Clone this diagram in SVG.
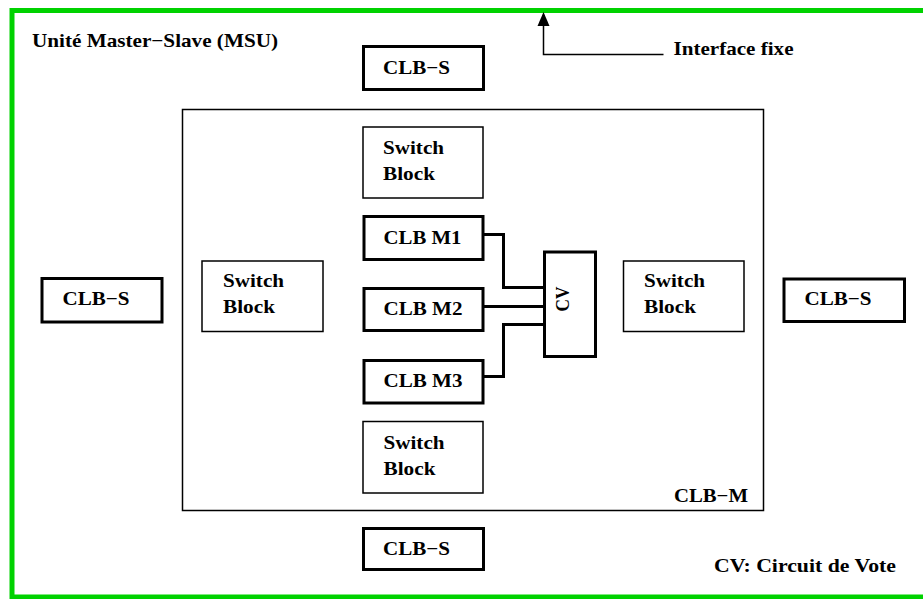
<svg xmlns="http://www.w3.org/2000/svg" width="923" height="599" viewBox="0 0 923 599">
<defs>
<style>
text{font-family:"Liberation Serif","Times New Roman",serif;font-weight:700;font-size:19px;fill:#000}
.thin{fill:#fff;stroke:#000;stroke-width:1.5}
.thick{fill:#fff;stroke:#000;stroke-width:3}
.wire{fill:none;stroke:#000;stroke-width:3}
.frame{fill:none;stroke:#00d200;stroke-width:5}
</style>
</defs>
<rect width="923" height="599" fill="#fff"/>
<g id="frame">
<path class="frame" d="M923,10.5 H12 V597 H923"/>
<text x="32" y="47" textLength="246" lengthAdjust="spacingAndGlyphs">Unité Master−Slave (MSU)</text>
</g>
<g id="clb-m">
<rect class="thin" x="182.5" y="109.5" width="581" height="401"/>
<text x="674" y="502" textLength="74" lengthAdjust="spacingAndGlyphs">CLB−M</text>
</g>
<g id="clb-s-top">
<rect class="thick" x="363.5" y="46.5" width="120" height="43"/>
<text x="383" y="73.5" textLength="67" lengthAdjust="spacingAndGlyphs">CLB−S</text>
</g>
<g id="clb-s-bottom">
<rect class="thick" x="363.5" y="528.5" width="120" height="41"/>
<text x="383" y="555" textLength="67" lengthAdjust="spacingAndGlyphs">CLB−S</text>
</g>
<g id="clb-s-left">
<rect class="thick" x="42" y="278.5" width="120" height="43.5"/>
<text x="62.5" y="305" textLength="67" lengthAdjust="spacingAndGlyphs">CLB−S</text>
</g>
<g id="clb-s-right">
<rect class="thick" x="784" y="279" width="120.5" height="42.5"/>
<text x="804.5" y="304.5" textLength="67" lengthAdjust="spacingAndGlyphs">CLB−S</text>
</g>
<g id="switch-top">
<rect class="thin" x="363" y="127" width="120" height="71"/>
<text x="383" y="154" textLength="61" lengthAdjust="spacingAndGlyphs">Switch</text>
<text x="383" y="180" textLength="52" lengthAdjust="spacingAndGlyphs">Block</text>
</g>
<g id="switch-bottom">
<rect class="thin" x="363" y="421.5" width="120" height="71.5"/>
<text x="383.5" y="448.5" textLength="61" lengthAdjust="spacingAndGlyphs">Switch</text>
<text x="383.5" y="475" textLength="52" lengthAdjust="spacingAndGlyphs">Block</text>
</g>
<g id="switch-left">
<rect class="thin" x="202" y="261" width="121" height="70.5"/>
<text x="223" y="286.5" textLength="61" lengthAdjust="spacingAndGlyphs">Switch</text>
<text x="223" y="313" textLength="52" lengthAdjust="spacingAndGlyphs">Block</text>
</g>
<g id="switch-right">
<rect class="thin" x="623.5" y="261" width="120.5" height="70.5"/>
<text x="644" y="286.5" textLength="61" lengthAdjust="spacingAndGlyphs">Switch</text>
<text x="644" y="313" textLength="52" lengthAdjust="spacingAndGlyphs">Block</text>
</g>
<g id="clb-m1">
<rect class="thick" x="364" y="216.5" width="119" height="43"/>
<text x="383.5" y="243.5" textLength="78" lengthAdjust="spacingAndGlyphs">CLB M1</text>
</g>
<g id="clb-m2">
<rect class="thick" x="364" y="288.5" width="119" height="42"/>
<text x="383.5" y="314.5" textLength="79" lengthAdjust="spacingAndGlyphs">CLB M2</text>
</g>
<g id="clb-m3">
<rect class="thick" x="364" y="360.5" width="119" height="42.5"/>
<text x="383.5" y="387" textLength="79" lengthAdjust="spacingAndGlyphs">CLB M3</text>
</g>
<g id="cv">
<rect class="thick" x="544.5" y="252" width="51" height="104.5"/>
<text transform="translate(569,299) rotate(-90)" x="0" y="0" text-anchor="middle" textLength="25" lengthAdjust="spacingAndGlyphs">CV</text>
</g>
<g id="connectors">
<path class="wire" d="M483,234.5 H503.5 V287.5 H544.5"/>
<path class="wire" d="M483,306.5 H544.5"/>
<path class="wire" d="M483,376.5 H503.5 V324.5 H544.5"/>
<path d="M663.5,54.5 H543.5 V25" fill="none" stroke="#000" stroke-width="1.5"/>
<polygon points="543.5,12 537.5,26 549.5,26" fill="#000"/>
</g>
<g id="labels">
<text x="673.5" y="55" textLength="120" lengthAdjust="spacingAndGlyphs">Interface fixe</text>
<text x="714" y="572" textLength="182" lengthAdjust="spacingAndGlyphs">CV: Circuit de Vote</text>
</g>
</svg>
